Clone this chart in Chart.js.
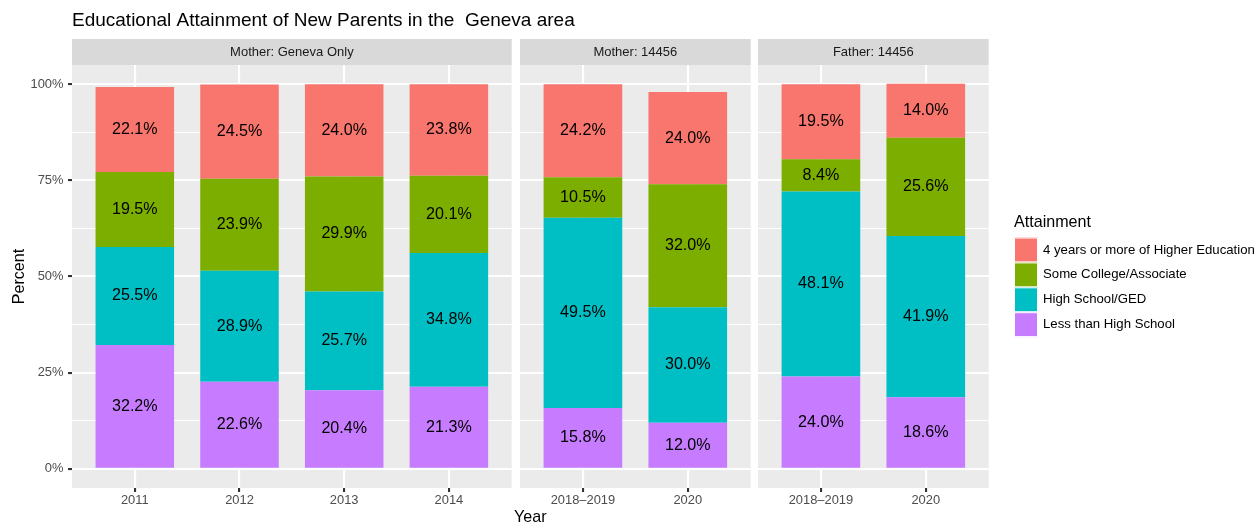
<!DOCTYPE html>
<html><head><meta charset="utf-8">
<script src="https://cdn.jsdelivr.net/npm/chart.js@4.4.1/dist/chart.umd.min.js"></script>
<style>
html,body{margin:0;padding:0;background:#ffffff;}
#wrap{position:relative;width:1260px;height:523px;overflow:hidden;background:#ffffff;}
#wrap canvas{position:absolute;left:0;top:0;}
</style></head><body>
<div id="wrap">
<canvas id="c1" width="1260" height="523"></canvas>
<canvas id="c2" width="1260" height="523"></canvas>
<canvas id="c3" width="1260" height="523"></canvas>
</div>
<script>
// ---------- data ----------
const chartTitle = 'Educational Attainment of New Parents in the  Geneva area';
const xTitle = 'Year';
const yTitle = 'Percent';
const legendTitle = 'Attainment';
const seriesNames = ['Less than High School', 'High School/GED', 'Some College/Associate', '4 years or more of Higher Education'];
const seriesColors = ['#C77CFF', '#00BFC4', '#7CAE00', '#F8766D'];
const legendOrder = [3, 2, 1, 0];
const stripLabels = ['Mother: Geneva Only', 'Mother: 14456', 'Father: 14456'];

const panel1Years = ['2011', '2012', '2013', '2014'];
const panel1Less = [32.2, 22.6, 20.4, 21.3];
const panel1HS   = [25.5, 28.9, 25.7, 34.8];
const panel1Some = [19.5, 23.9, 29.9, 20.1];
const panel1Four = [22.1, 24.5, 24.0, 23.8];

const panel2Years = ['2018\u20132019', '2020'];
const panel2Less = [15.8, 12.0];
const panel2HS   = [49.5, 30.0];
const panel2Some = [10.5, 32.0];
const panel2Four = [24.2, 24.0];

const panel3Years = ['2018\u20132019', '2020'];
const panel3Less = [24.0, 18.6];
const panel3HS   = [48.1, 41.9];
const panel3Some = [8.4, 25.6];
const panel3Four = [19.5, 14.0];

const yGridValues = [0, 12.5, 25, 37.5, 50, 62.5, 75, 87.5, 100];
const yLabelValues = [0, 25, 50, 75, 100];
const yRange = [-5, 105];

// ---------- layout / style ----------
const FONT = "'Liberation Sans', Arial, Helvetica, sans-serif";
const W = 1260, H = 523;
const PLOT_TOP = 65, STRIP_TOP = 39, XAXIS_H = 35, YAXIS_W = 72;
const panelBox = [ {left: 72, right: 511.7}, {left: 520, right: 750.7}, {left: 758, right: 988.7} ];
const MAJOR_W = 2.1, MINOR_W = 1.05, TICK_LEN = 4;

const decorPlugin = {
  id: 'panelDecor',
  beforeDraw(chart, args, opts) {
    const {ctx, chartArea: a} = chart;
    ctx.save();
    ctx.fillStyle = '#EBEBEB';
    ctx.fillRect(a.left, a.top, a.right - a.left, a.bottom - a.top);
    ctx.fillStyle = '#D9D9D9';
    ctx.fillRect(a.left, STRIP_TOP, a.right - a.left, a.top - STRIP_TOP);
    ctx.fillStyle = '#1A1A1A';
    ctx.font = '13px ' + FONT;
    ctx.textAlign = 'center';
    ctx.textBaseline = 'middle';
    ctx.fillText(opts.text, (a.left + a.right) / 2, (STRIP_TOP + a.top) / 2);
    ctx.restore();
  },
  afterDatasetsDraw(chart) {
    const ctx = chart.ctx;
    ctx.save();
    ctx.fillStyle = '#000000';
    ctx.font = '16.1px ' + FONT;
    ctx.textAlign = 'center';
    ctx.textBaseline = 'middle';
    chart.data.datasets.forEach((ds, di) => {
      const meta = chart.getDatasetMeta(di);
      meta.data.forEach((el, i) => {
        const p = el.getProps(['x', 'y', 'base'], true);
        const v = ds.data[i].y;
        ctx.fillText(v.toFixed(1) + '%', p.x, (p.y + p.base) / 2);
      });
    });
    ctx.restore();
  }
};

const extrasPlugin = {
  id: 'pageExtras',
  afterDraw(chart) {
    const ctx = chart.ctx;
    ctx.save();
    ctx.fillStyle = '#000000';
    // plot title
    ctx.font = '19px ' + FONT;
    ctx.textAlign = 'left';
    ctx.textBaseline = 'alphabetic';
    ctx.fillText(chartTitle, panelBox[0].left, 25.7);
    // x axis title centred under all panels
    ctx.font = '16.1px ' + FONT;
    ctx.textAlign = 'center';
    ctx.fillText(xTitle, (panelBox[0].left + panelBox[2].right) / 2, 522);
    // legend
    const lx = 1014, ly = 237.5, kw = 24, kh = 24.9;
    ctx.textAlign = 'left';
    ctx.fillText(legendTitle, lx, 227.3);
    ctx.font = '13.2px ' + FONT;
    ctx.textBaseline = 'middle';
    legendOrder.forEach((si, k) => {
      const ds = chart.data.datasets[si];
      const y = ly + k * kh;
      ctx.fillStyle = ds.backgroundColor;
      ctx.fillRect(lx, y, kw, kh);
      ctx.strokeStyle = '#FFFFFF';
      ctx.lineWidth = 1;
      ctx.strokeRect(lx + 0.5, y + 0.5, kw - 1, kh - 1);
      ctx.fillStyle = '#000000';
      ctx.fillText(ds.label, lx + kw + 5, y + kh / 2);
    });
    ctx.restore();
  }
};

function makePanel(canvasId, idx, cats, less, hs, some, four) {
  const first = idx === 0;
  const box = panelBox[idx];
  const series = [less, hs, some, four];
  const datasets = series.map((vals, si) => ({
    label: seriesNames[si],
    backgroundColor: seriesColors[si],
    borderWidth: 0,
    data: vals.map((v, i) => ({x: i, y: v})),
    barPercentage: 0.75,
    categoryPercentage: 1.0
  }));
  const config = {
    type: 'bar',
    data: {datasets},
    options: {
      responsive: false,
      animation: false,
      events: [],
      layout: {padding: {left: first ? 0 : box.left, top: PLOT_TOP, right: W - box.right, bottom: 0}},
      plugins: {
        legend: {display: false},
        tooltip: {enabled: false},
        title: {display: false},
        panelDecor: {text: stripLabels[idx]}
      },
      scales: {
        x: {
          type: 'linear', stacked: true, offset: false,
          min: -0.6, max: cats.length - 0.4,
          afterBuildTicks: s => { s.ticks = cats.map((c, i) => ({value: i})); },
          afterFit: s => { s.height = XAXIS_H; },
          border: {display: false},
          grid: {offset: false, color: '#FFFFFF', lineWidth: MAJOR_W, drawTicks: true,
                 tickLength: TICK_LEN, tickColor: '#333333', tickWidth: MAJOR_W},
          ticks: {callback: v => cats[v], color: '#4D4D4D', font: {family: FONT, size: 12.9},
                  padding: 1, maxRotation: 0, autoSkip: false}
        },
        y: {
          type: 'linear', stacked: true,
          min: yRange[0], max: yRange[1],
          afterBuildTicks: s => { s.ticks = yGridValues.map(v => ({value: v})); },
          afterFit: s => { s.width = first ? YAXIS_W : 0; },
          border: {display: false},
          grid: {
            color: '#FFFFFF',
            lineWidth: c => (c.tick && yLabelValues.includes(c.tick.value)) ? MAJOR_W : MINOR_W,
            drawTicks: first, tickLength: TICK_LEN,
            tickColor: c => (c.tick && yLabelValues.includes(c.tick.value)) ? '#333333' : 'rgba(0,0,0,0)',
            tickWidth: MAJOR_W
          },
          ticks: {
            display: first,
            callback: v => yLabelValues.includes(v) ? v + '%' : '',
            color: '#4D4D4D', font: {family: FONT, size: 12.9}, padding: 4.5, autoSkip: false
          },
          title: first ? {display: true, text: yTitle, color: '#000000',
                          font: {family: FONT, size: 16.1}, padding: {top: 10.2, bottom: 0}} : {display: false}
        }
      }
    },
    plugins: idx === 2 ? [extrasPlugin] : []
  };
  return new Chart(document.getElementById(canvasId), config);
}

Chart.register(decorPlugin);
makePanel('c1', 0, panel1Years, panel1Less, panel1HS, panel1Some, panel1Four);
makePanel('c2', 1, panel2Years, panel2Less, panel2HS, panel2Some, panel2Four);
makePanel('c3', 2, panel3Years, panel3Less, panel3HS, panel3Some, panel3Four);
</script>
</body></html>
